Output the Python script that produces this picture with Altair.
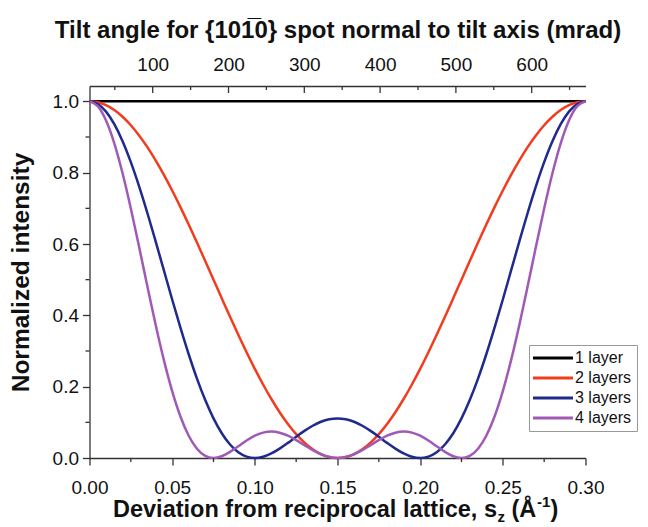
import altair as alt
import pandas as pd

# ---------------- data ----------------
s_vals = [0.000, 0.005, 0.010, 0.015, 0.020, 0.025, 0.030, 0.035, 0.040, 0.045,
          0.050, 0.055, 0.060, 0.065, 0.070, 0.075, 0.080, 0.085, 0.090, 0.095,
          0.100, 0.105, 0.110, 0.115, 0.120, 0.125, 0.130, 0.135, 0.140, 0.145,
          0.150, 0.155, 0.160, 0.165, 0.170, 0.175, 0.180, 0.185, 0.190, 0.195,
          0.200, 0.205, 0.210, 0.215, 0.220, 0.225, 0.230, 0.235, 0.240, 0.245,
          0.250, 0.255, 0.260, 0.265, 0.270, 0.275, 0.280, 0.285, 0.290, 0.295,
          0.300]

one_layer = [1.0, 1.0, 1.0, 1.0, 1.0, 1.0, 1.0, 1.0, 1.0, 1.0,
             1.0, 1.0, 1.0, 1.0, 1.0, 1.0, 1.0, 1.0, 1.0, 1.0,
             1.0, 1.0, 1.0, 1.0, 1.0, 1.0, 1.0, 1.0, 1.0, 1.0,
             1.0, 1.0, 1.0, 1.0, 1.0, 1.0, 1.0, 1.0, 1.0, 1.0,
             1.0, 1.0, 1.0, 1.0, 1.0, 1.0, 1.0, 1.0, 1.0, 1.0,
             1.0, 1.0, 1.0, 1.0, 1.0, 1.0, 1.0, 1.0, 1.0, 1.0,
             1.0]

two_layers = [1.0, 0.9973, 0.9891, 0.9755, 0.9568, 0.9330, 0.9045, 0.8716, 0.8346, 0.7939,
              0.7500, 0.7034, 0.6545, 0.6040, 0.5523, 0.5000, 0.4477, 0.3960, 0.3455, 0.2966,
              0.2500, 0.2061, 0.1654, 0.1284, 0.0955, 0.0670, 0.0432, 0.0245, 0.0109, 0.0027,
              0.0, 0.0027, 0.0109, 0.0245, 0.0432, 0.0670, 0.0955, 0.1284, 0.1654, 0.2061,
              0.2500, 0.2966, 0.3455, 0.3960, 0.4477, 0.5000, 0.5523, 0.6040, 0.6545, 0.7034,
              0.7500, 0.7939, 0.8346, 0.8716, 0.9045, 0.9330, 0.9568, 0.9755, 0.9891, 0.9973,
              1.0]

three_layers = [1.0, 0.9927, 0.9711, 0.9358, 0.8881, 0.8294, 0.7616, 0.6869, 0.6075, 0.5259,
                0.4444, 0.3654, 0.2909, 0.2227, 0.1624, 0.1111, 0.0695, 0.0379, 0.0162, 0.0039,
                0.0, 0.0034, 0.0127, 0.0263, 0.0424, 0.0596, 0.0760, 0.0904, 0.1016, 0.1087,
                0.1111, 0.1087, 0.1016, 0.0904, 0.0760, 0.0596, 0.0424, 0.0263, 0.0127, 0.0034,
                0.0, 0.0039, 0.0162, 0.0379, 0.0695, 0.1111, 0.1624, 0.2227, 0.2909, 0.3654,
                0.4444, 0.5259, 0.6075, 0.6869, 0.7616, 0.8294, 0.8881, 0.9358, 0.9711, 0.9927,
                1.0]

four_layers = [1.0, 0.9864, 0.9463, 0.8824, 0.7985, 0.6998, 0.5920, 0.4813, 0.3737, 0.2743,
               0.1875, 0.1164, 0.0625, 0.0261, 0.0060, 0.0, 0.0049, 0.0171, 0.0330, 0.0491,
               0.0625, 0.0712, 0.0741, 0.0709, 0.0625, 0.0502, 0.0361, 0.0221, 0.0105, 0.0027,
               0.0, 0.0027, 0.0105, 0.0221, 0.0361, 0.0502, 0.0625, 0.0709, 0.0741, 0.0712,
               0.0625, 0.0491, 0.0330, 0.0171, 0.0049, 0.0, 0.0060, 0.0261, 0.0625, 0.1164,
               0.1875, 0.2743, 0.3737, 0.4813, 0.5920, 0.6998, 0.7985, 0.8824, 0.9463, 0.9864,
               1.0]

series_names = ["1 layer", "2 layers", "3 layers", "4 layers"]
series_colors = ["#000000", "#f23c1e", "#1f2a8c", "#a05ab6"]

x_major = [0.0, 0.05, 0.10, 0.15, 0.20, 0.25, 0.30]
x_minor = [0.025, 0.075, 0.125, 0.175, 0.225, 0.275]
y_major = [0.0, 0.2, 0.4, 0.6, 0.8, 1.0]
y_minor = [0.1, 0.3, 0.5, 0.7, 0.9]
top_major = [100, 200, 300, 400, 500, 600]
top_minor = [50, 150, 250, 350, 450, 550, 650]
top_domain = [16.6, 671]

rows = []
for name, vals in zip(series_names, [one_layer, two_layers, three_layers, four_layers]):
    for s, v in zip(s_vals, vals):
        rows.append({"s": s, "I": v, "series": name})
df = pd.DataFrame(rows)

# ---------------- styling ----------------
W, H = 496, 372
FONT = "Liberation Sans"
AX = "#333333"
TF = 23.5   # title font size

x_scale = alt.Scale(domain=[0, 0.3], nice=False, zero=False)
y_scale = alt.Scale(domain=[0, 1.043], nice=False)
x_axis = alt.Axis(orient="bottom", values=x_major, format=".2f", tickSize=7,
                  labelPadding=13, title=None)
y_axis = alt.Axis(values=y_major, format=".1f", tickSize=7, labelPadding=4,
                  title="Normalized intensity", titlePadding=19, titleFontSize=24.5)

lines = alt.Chart(df).mark_line(strokeWidth=2.5, interpolate="monotone").encode(
    x=alt.X("s:Q", scale=x_scale, axis=x_axis),
    y=alt.Y("I:Q", scale=y_scale, axis=y_axis),
    color=alt.Color("series:N", sort=series_names,
                    scale=alt.Scale(domain=series_names, range=series_colors),
                    legend=alt.Legend(title=None, orient="none", legendX=439.5, legendY=259,
                                      strokeColor="#999999", fillColor="white", padding=5,
                                      symbolType="M-1.8,0H6.2", symbolSize=100, symbolStrokeWidth=3,
                                      labelFont=FONT, labelFontSize=16, labelColor="#111111",
                                      labelOffset=25, rowPadding=4)),
)

bottom_minor = alt.Chart(pd.DataFrame({"s": x_minor})).mark_rule(color=AX, strokeWidth=1.3).encode(
    x=alt.X("s:Q", scale=x_scale, axis=x_axis), y=alt.value(H), y2=alt.value(H + 4))

left_minor = alt.Chart(pd.DataFrame({"I": y_minor})).mark_rule(color=AX, strokeWidth=1.3).encode(
    y=alt.Y("I:Q", scale=y_scale, axis=y_axis), x=alt.value(0), x2=alt.value(-4))

# bottom axis title built from pieces (subscript / superscript)
one = pd.DataFrame({"a": [0]})
def piece(txt, x, y, size):
    return alt.Chart(one).mark_text(align="left", baseline="alphabetic", font=FONT,
                                    fontWeight="bold", fontSize=size, color="#111111").encode(
        x=alt.value(x), y=alt.value(y), text=alt.value(txt))

BY = 431
xtitle = [
    piece("Deviation from reciprocal lattice, s", 23.5, BY, TF),
    piece("z", 408, BY + 5, 15),
    piece("(Å", 422, BY, TF),
    piece("-1", 447.5, BY - 10, 15),
    piece(")", 461, BY, TF),
]

main = alt.layer(lines, bottom_minor, left_minor, *xtitle)

top_scale = alt.Scale(domain=top_domain, nice=False, zero=False)
top_axis = alt.Axis(orient="top", values=top_major, ticks=False, labelPadding=12,
                    title="Tilt angle for {10" + "1\u0305" + "0} spot normal to tilt axis (mrad)",
                    titlePadding=13, titleFontSize=24)
top_major_layer = alt.Chart(pd.DataFrame({"m": top_major})).mark_rule(color=AX, strokeWidth=1.3).encode(
    x=alt.X("m:Q", scale=top_scale, axis=top_axis),
    y=alt.value(0), y2=alt.value(7))
top_minor_layer = alt.Chart(pd.DataFrame({"m": top_minor})).mark_rule(color=AX, strokeWidth=1.3).encode(
    x=alt.X("m:Q", scale=top_scale, axis=top_axis), y=alt.value(0), y2=alt.value(4))
top = alt.layer(top_major_layer, top_minor_layer)

chart = alt.layer(main, top).resolve_scale(x="independent").properties(
    width=W, height=H,
    autosize=alt.AutoSizeParams(type="none"),
    padding={"left": 81.5, "top": 78, "right": 54.5, "bottom": 69},
).configure_view(stroke=None).configure_axis(
    labelFont=FONT, labelFontSize=19, labelColor="#111111",
    titleFont=FONT, titleFontSize=TF, titleFontWeight="bold", titleColor="#111111",
    domainColor=AX, tickColor=AX, domainWidth=1.3, tickWidth=1.3, grid=False,
    labelFlush=False, labelOverlap=False,
)

chart.save("out.html", embed_options={"renderer": "svg", "actions": False})
